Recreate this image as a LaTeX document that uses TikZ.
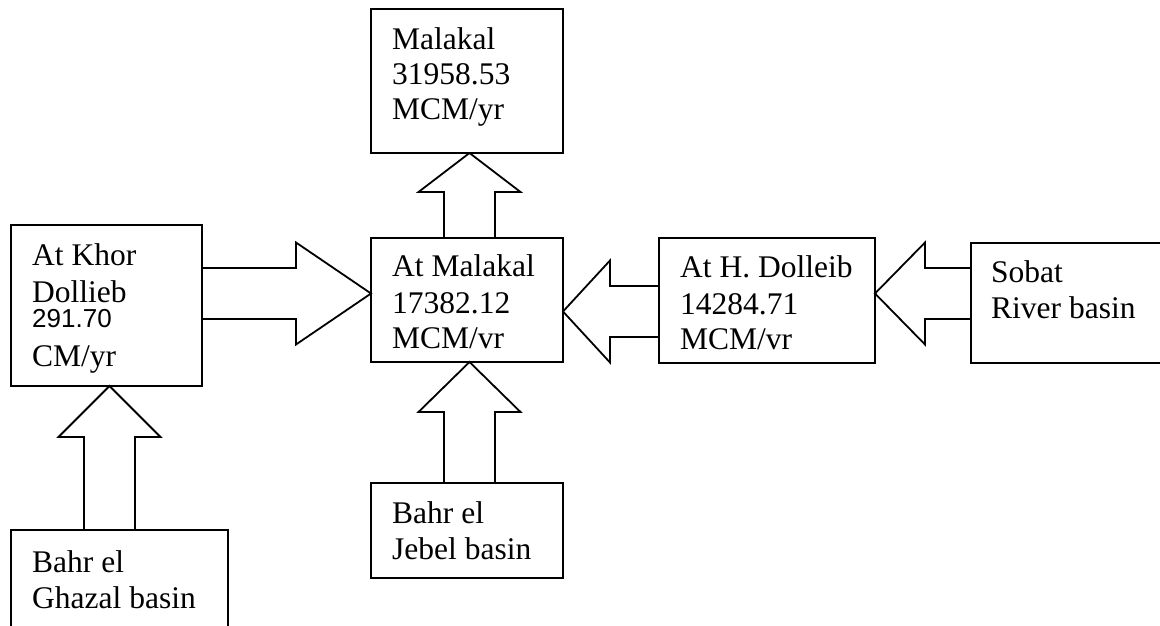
\documentclass[tikz,border=0pt]{standalone}
\usepackage{fontspec}
\setmainfont{Liberation Serif}
\setsansfont{Liberation Sans}
\usetikzlibrary{calc}

% half widths of the block arrows
\def\shafthw{25.5pt}
\def\headhw{51pt}

% block arrow from a tail point to a tip point, #3 = head length
\newcommand\blockarrow[3]{%
  \coordinate (ba-h) at ($(#2)!#3!(#1)$);
  \draw[blockarrow]
    ($(#1)!\shafthw!90:(#2)$) -- ($(ba-h)!\shafthw!-90:(#1)$)
    -- ($(ba-h)!\headhw!-90:(#1)$) -- (#2)
    -- ($(ba-h)!\headhw!90:(#1)$) -- ($(ba-h)!\shafthw!90:(#1)$)
    -- ($(#1)!\shafthw!-90:(#2)$);
}

% left-aligned lines of a box, first baseline at the node's base
\newcommand\boxlines[1]{\parbox[t]{300pt}{\raggedright #1}}

\tikzset{
  box/.style={draw, line width=1.8pt, rectangle, outer sep=0pt, inner sep=0pt, anchor=north west},
  boxtext/.style={anchor=base west, inner sep=0pt, font=\fontsize{31.5}{36}\selectfont},
  blockarrow/.style={line width=1.8pt, line join=miter}
}

\begin{document}
\begin{tikzpicture}[x=1pt, y=1pt]
  \useasboundingbox (0,0) rectangle (1160,625);
  \fill[white] (0,0) rectangle (1160,625);
  \clip (0,0) rectangle (1160,625);

  % stations and basins
  \node[box, minimum width=192pt, minimum height=144pt] (top)    at (371,616) {};
  \node[box, minimum width=192pt, minimum height=124pt] (mal)    at (371,387) {};
  \node[box, minimum width=191pt, minimum height=161pt] (khor)   at (11,400)  {};
  \node[box, minimum width=216pt, minimum height=125pt] (dol)    at (659,387) {};
  \node[box, minimum width=240pt, minimum height=120pt] (sob)    at (971,382) {};
  \node[box, minimum width=217pt, minimum height=120pt] (ghazal) at (11,95)   {};
  \node[box, minimum width=192pt, minimum height=95pt]  (jebel)  at (371,142) {};

  % box texts
  \node[boxtext] (top-t) at ($(top.north west)+(21,-41)$)
    {\boxlines{Malakal\\[-1pt]31958.53\\[-1pt]MCM/yr}};
  \node[boxtext] (mal-t) at ($(mal.north west)+(21,-39)$)
    {\boxlines{At Malakal\\17382.12\\MCM/vr}};
  \node[boxtext] (khor-t) at ($(khor.north west)+(21,-41)$)
    {\boxlines{At Khor\\Dollieb\\[-10pt]{\sffamily\fontsize{26}{36}\selectfont 291.70}\\[3pt]CM/yr}};
  \node[boxtext] (dol-t) at ($(dol.north west)+(21,-40)$)
    {\boxlines{At H. Dolleib\\14284.71\\MCM/vr}};
  \node[boxtext] (sob-t) at ($(sob.north west)+(20,-40)$)
    {\boxlines{Sobat\\River basin}};
  \node[boxtext] (ghazal-t) at ($(ghazal.north west)+(21,-42)$)
    {\boxlines{Bahr el\\Ghazal basin}};
  \node[boxtext] (jebel-t) at ($(jebel.north west)+(21,-40)$)
    {\boxlines{Bahr el\\Jebel basin}};

  % flow arrows
  \coordinate (a1-tip)  at ($(mal.west)+(0,6.5)$);
  \coordinate (a1-tail) at (khor.east |- a1-tip);
  \blockarrow{a1-tail}{a1-tip}{75pt}

  \coordinate (a2-tip)  at ($(top.south)+(2.5,0)$);
  \coordinate (a2-tail) at (a2-tip |- mal.north);
  \blockarrow{a2-tail}{a2-tip}{39pt}

  \coordinate (a3-tip)  at ($(mal.east)+(0,-11.5)$);
  \coordinate (a3-tail) at (dol.west |- a3-tip);
  \blockarrow{a3-tail}{a3-tip}{47pt}

  \coordinate (a4-tip)  at ($(dol.east)+(0,7)$);
  \coordinate (a4-tail) at (sob.west |- a4-tip);
  \blockarrow{a4-tail}{a4-tip}{50pt}

  \coordinate (a5-tip)  at ($(khor.south)+(3,0)$);
  \coordinate (a5-tail) at (a5-tip |- ghazal.north);
  \blockarrow{a5-tail}{a5-tip}{51pt}

  \coordinate (a6-tip)  at ($(mal.south)+(2.5,0)$);
  \coordinate (a6-tail) at (a6-tip |- jebel.north);
  \blockarrow{a6-tail}{a6-tip}{50pt}
\end{tikzpicture}
\end{document}
